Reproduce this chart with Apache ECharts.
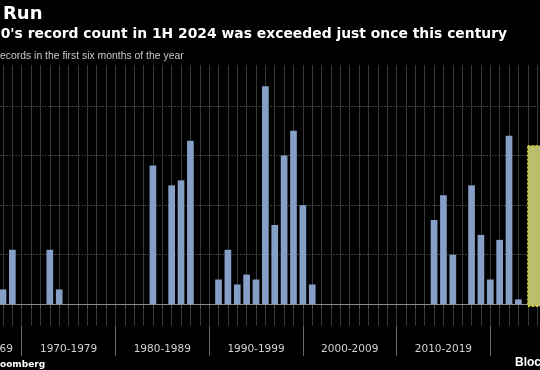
<!DOCTYPE html>
<html>
<head>
<meta charset="utf-8">
<script src="https://cdn.jsdelivr.net/npm/echarts@6/dist/echarts.min.js"></script>
<style>
html,body{margin:0;padding:0;background:#000;width:540px;height:370px;overflow:hidden;position:relative;}
#chart{position:absolute;left:-75px;top:0;width:662px;height:370px;}
</style>
</head>
<body>
<div id="chart"></div>
<script>
// Years and first-half record counts
const years = [1968,1969,1970,1971,1972,1973,1974,1975,1976,1977,1978,1979,
  1980,1981,1982,1983,1984,1985,1986,1987,1988,1989,
  1990,1991,1992,1993,1994,1995,1996,1997,1998,1999,
  2000,2001,2002,2003,2004,2005,2006,2007,2008,2009,
  2010,2011,2012,2013,2014,2015,2016,2017,2018,2019,
  2020,2021,2022,2023];
const values = [3,11,0,0,0,11,3,0,0,0,0,0,
  0,0,0,0,28,0,24,25,33,0,
  0,5,11,4,6,5,44,16,30,35,
  20,4,0,0,0,0,0,0,0,0,
  0,0,0,0,17,22,10,0,24,14,
  5,13,34,1];
const highlightYear = [2024];
const highlightValue = [32];
const gridValues = [10,20,30,40];
const zeroValue = [0];
const decadeLabels = ['1960-1969','1970-1979','1980-1989','1990-1999','2000-2009','2010-2019'];
const decadeLabelYears = [1966,1975,1985,1995,2005,2015];

const OX = 75; // the chart canvas starts 75px left of the visible window
const chart = echarts.init(document.getElementById('chart'));
const labelMap = {};
decadeLabelYears.forEach((y,i)=>{ labelMap[y] = decadeLabels[i]; });

const option = {
  backgroundColor: '#000',
  animation: false,
  grid: { left: 0, right: 0, top: 65, bottom: 44, containLabel: false },
  xAxis: [
    {
      type: 'value', min: 1960, max: 2030, interval: 1, position: 'bottom',
      axisLine: { show: true, lineStyle: { color: '#b4b4b4', width: 1 } },
      axisTick: { show: true, length: 4, lineStyle: { color: '#555' } },
      splitLine: { show: true, lineStyle: { color: '#383838', width: 1 } },
      axisLabel: {
        show: true, margin: 18, color: '#d2d2d2', fontFamily: 'DejaVu Sans', fontSize: 10.5,
        showMinLabel: true, showMaxLabel: true,
        formatter: v => labelMap[Math.round(v)] || ''
      }
    },
    {
      type: 'value', min: 1960, max: 2030, interval: 10, position: 'bottom',
      axisLine: { show: false },
      axisTick: { show: true, length: 30, lineStyle: { color: '#6a6a6a', width: 1 } },
      splitLine: { show: false },
      axisLabel: { show: false }
    }
  ],
  yAxis: {
    type: 'value', min: -4.377, max: 48.27, show: false, splitLine: { show: false }
  },
  graphic: [
    { type: 'text', left: OX + 3, top: 5, style: { text: 'Run', fill: '#fff', font: 'bold 18px "DejaVu Sans"' } },
    { type: 'text', left: OX - 9, top: 27, style: { text: "00's record count in 1H 2024 was exceeded just once this century", fill: '#fff', font: 'bold 13.9px "DejaVu Sans"' } },
    { type: 'text', left: OX, top: 51, style: { text: 'ecords in the first six months of the year', fill: '#c8c8c8', font: '10.4px "Liberation Sans"' } },
    { type: 'text', left: OX, top: 360, style: { text: 'oomberg', fill: '#fff', font: 'bold 9px "DejaVu Sans"' } },
    { type: 'text', left: OX + 515, top: 357, style: { text: 'Bloc', fill: '#fff', font: 'bold 12px "Liberation Sans"' } }
  ],
  series: [
    {
      type: 'line', data: [], silent: true, z: 1,
      markLine: {
        silent: true, symbol: 'none', z: 1, label: { show: false },
        data: gridValues.map(v => ({ yAxis: v, lineStyle: { color: '#3e3e3e', width: 1, type: [2, 1] } }))
          .concat(zeroValue.map(v => ({ yAxis: v, lineStyle: { color: '#8c8c8c', width: 1, type: 'solid' } })))
      }
    },
    {
      type: 'bar', xAxisIndex: 0, barWidth: 6.7, z: 3,
      itemStyle: { color: '#859fc7' },
      data: years.map((y, i) => [y, values[i]])
    },
    {
      type: 'custom', xAxisIndex: 0, z: 4,
      data: highlightYear.map((y, i) => [y, highlightValue[i]]),
      renderItem: function (params, api) {
        const top = api.coord([api.value(0), api.value(1)]);
        const base = api.coord([api.value(0) + 2, 0]);
        return {
          type: 'rect',
          shape: { x: top[0], y: top[1], width: base[0] - top[0], height: base[1] - top[1] + 2 },
          style: { fill: '#bcbd6c', stroke: '#cfcb1c', lineWidth: 1.5, lineDash: [2, 2] }
        };
      }
    }
  ]
};
chart.setOption(option);
</script>
</body>
</html>
